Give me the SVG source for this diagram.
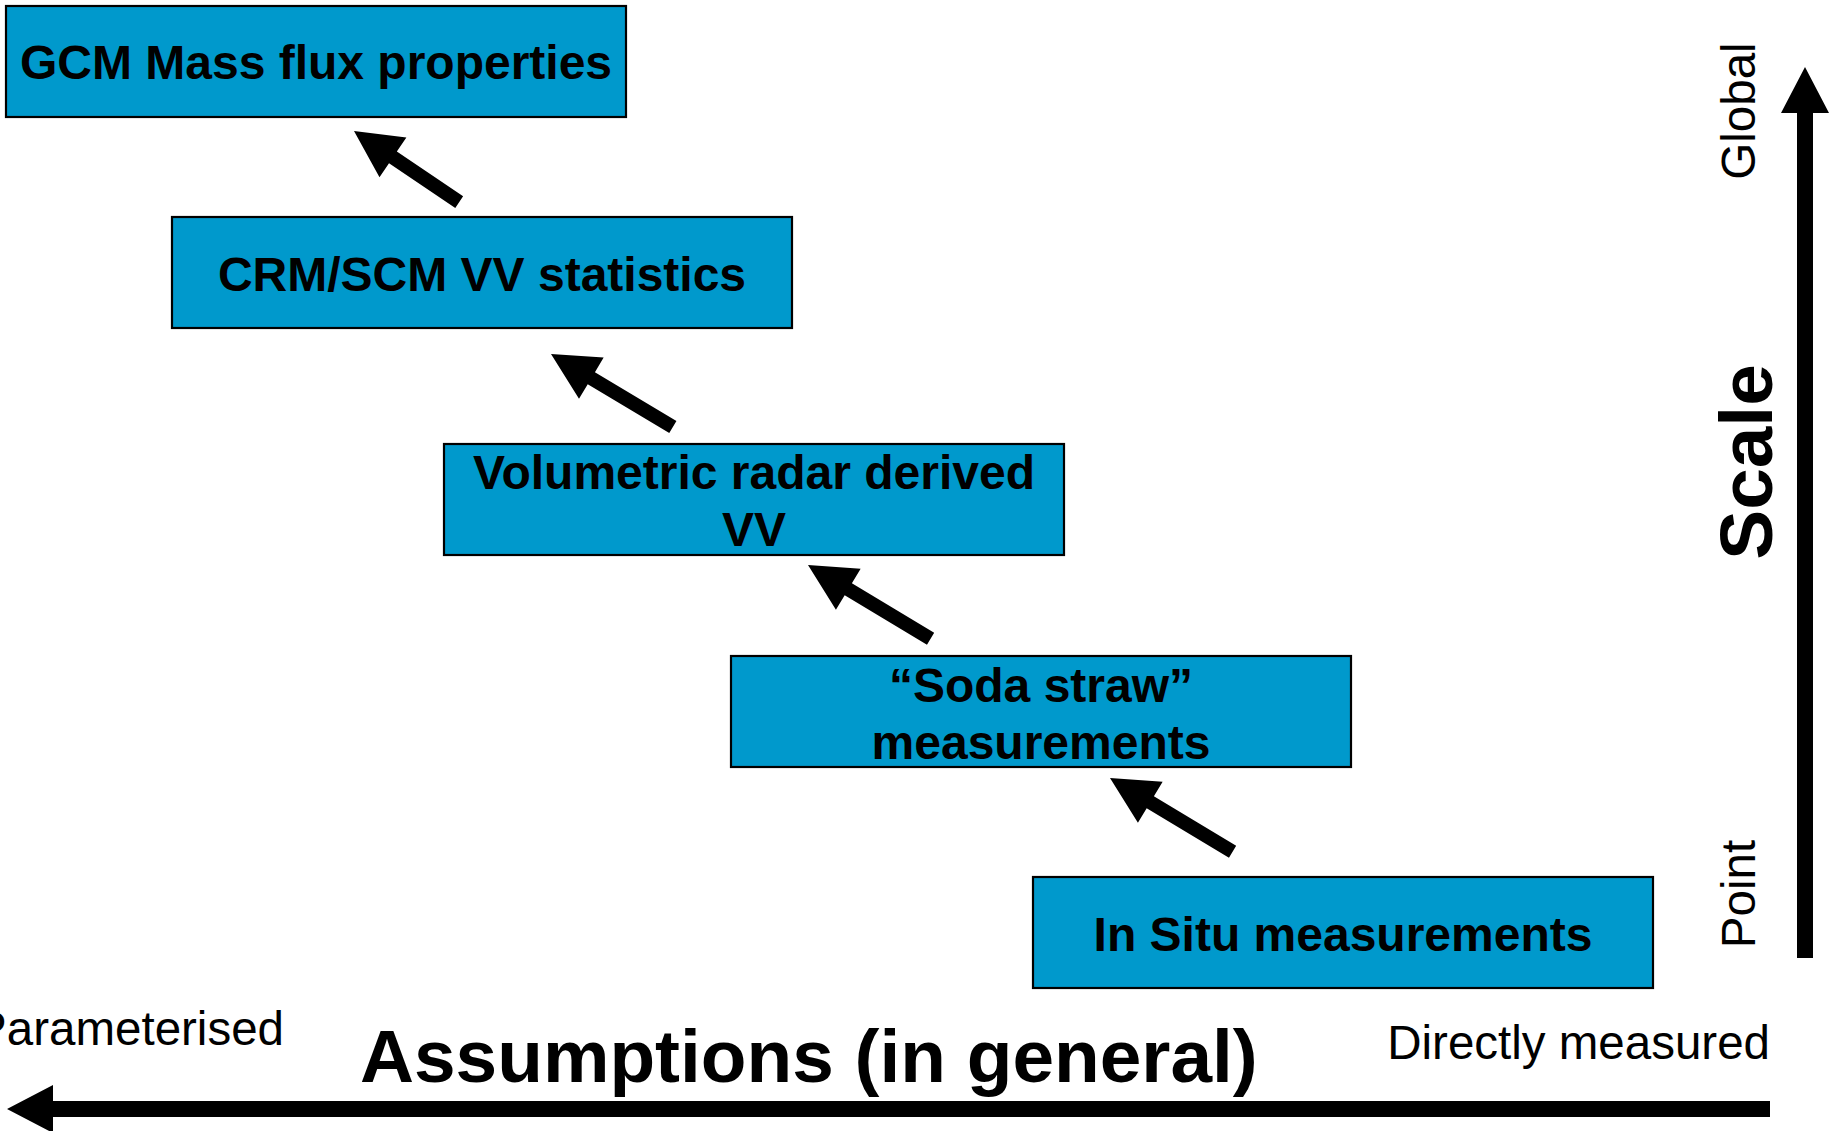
<svg xmlns="http://www.w3.org/2000/svg" width="1831" height="1131" viewBox="0 0 1831 1131">
<style>
.box{fill:#0099cc;stroke:#000;stroke-width:2.2}
.bt{font-family:"Liberation Sans",Arial,sans-serif;font-weight:bold;font-size:48px;fill:#000;text-anchor:middle}
.lab{font-family:"Liberation Sans",Arial,sans-serif;font-size:47.5px;fill:#000}
.big{font-family:"Liberation Sans",Arial,sans-serif;font-weight:bold;font-size:74.8px;fill:#000}
.arr{fill:#000}
</style>
<rect width="1831" height="1131" fill="#fff"/>
<g id="node-gcm"><rect class="box" x="6" y="6" width="620" height="111"/><text class="bt" x="316" y="79">GCM Mass flux properties</text></g>
<g id="node-crm"><rect class="box" x="172" y="217" width="620" height="111"/><text class="bt" x="482" y="291">CRM/SCM VV statistics</text></g>
<g id="node-radar"><rect class="box" x="444" y="444" width="620" height="111"/><text class="bt" x="754" y="489">Volumetric radar derived</text><text class="bt" x="754" y="546">VV</text></g>
<g id="node-soda"><rect class="box" x="731" y="656" width="620" height="111"/><text class="bt" x="1041" y="702">“Soda straw”</text><text class="bt" x="1041" y="759">measurements</text></g>
<g id="node-insitu"><rect class="box" x="1033" y="877" width="620" height="111"/><text class="bt" x="1343" y="951">In Situ measurements</text></g>
<g id="connectors">
<path class="arr" transform="translate(354,131) rotate(214.07)" d="M0,0 L-47,-24 L-47,-7 L-127,-7 L-127,7 L-47,7 L-47,24 Z"/>
<path class="arr" transform="translate(551,354) rotate(210.9)" d="M0,0 L-47,-24 L-47,-7 L-142,-7 L-142,7 L-47,7 L-47,24 Z"/>
<path class="arr" transform="translate(808,565) rotate(211)" d="M0,0 L-47,-24 L-47,-7 L-143,-7 L-143,7 L-47,7 L-47,24 Z"/>
<path class="arr" transform="translate(1110,778) rotate(211)" d="M0,0 L-47,-24 L-47,-7 L-143,-7 L-143,7 L-47,7 L-47,24 Z"/>
</g>
<g id="axes">
<path class="arr" d="M1805,67 L1829,113 L1813,113 L1813,958 L1797,958 L1797,113 L1781,113 Z"/>
<path class="arr" d="M7,1109 L53,1085 L53,1101 L1770,1101 L1770,1117 L53,1117 L53,1133 Z"/>
<text class="lab" x="284" y="1045" text-anchor="end">Parameterised</text>
<text class="lab" x="1770" y="1059" text-anchor="end">Directly measured</text>
<text class="big" x="360" y="1082">Assumptions (in general)</text>
<text class="big" transform="translate(1772,462) rotate(-90)" text-anchor="middle">Scale</text>
<text class="lab" transform="translate(1755,111) rotate(-90)" text-anchor="middle">Global</text>
<text class="lab" transform="translate(1755,894) rotate(-90)" text-anchor="middle">Point</text>
</g>
</svg>
